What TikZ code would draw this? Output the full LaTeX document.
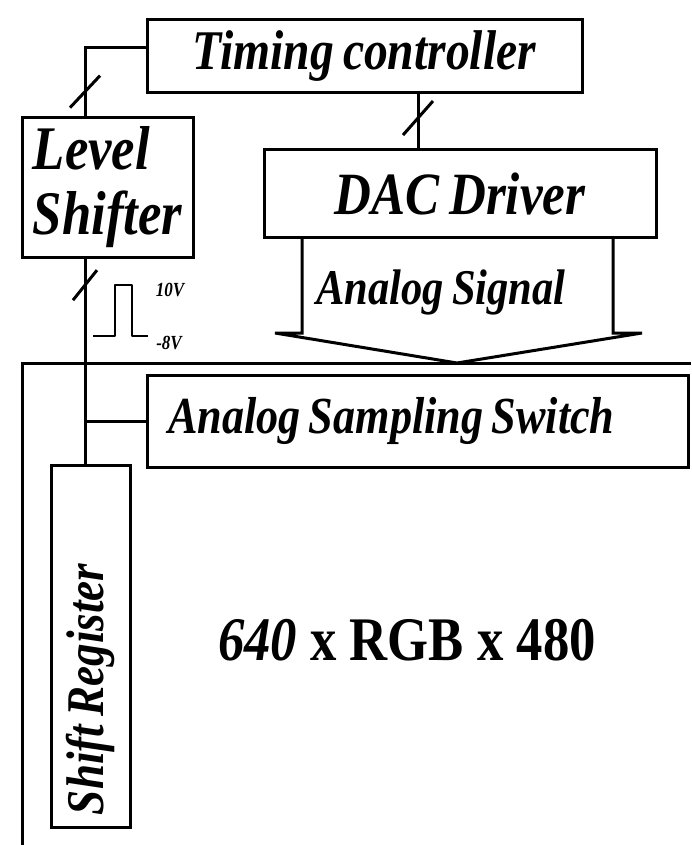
\documentclass[tikz,border=0pt]{standalone}
\usepackage{fontspec}
\setmainfont{Liberation Serif}[FakeStretch=0.85]
\newcommand\tightsp{\spaceskip=0.16em\relax}

\begin{document}
\begin{tikzpicture}[x=1pt,y=-1pt]
\tikzset{
  block/.style={draw,line width=3pt,inner sep=0pt},
  wire/.style={line width=3pt},
  tick/.style={line width=3pt},
  pulse/.style={line width=2.6pt,line join=round},
  volt/.style={inner sep=0pt,font=\fontsize{20}{20}\selectfont\bfseries\itshape}
}
\useasboundingbox (0,0) rectangle (691,845);
\node[block,minimum width=435,minimum height=73,font=\fontsize{56}{60}\selectfont\bfseries\itshape\tightsp] (n_tc) at (364.5,56.5) {Timing controller};
\node[block,minimum width=171,minimum height=139,align=left,font=\fontsize{62}{65}\selectfont\bfseries\itshape] (n_ls) at (107.5,187.5) {Level\\Shifter};
\node[block,minimum width=392,minimum height=88,font=\fontsize{60}{64}\selectfont\bfseries\itshape\tightsp] (n_dac) at (460,193.5) {DAC Driver};
\node[block,text width=499,inner xsep=21,minimum height=92,align=left,font=\fontsize{52}{54}\selectfont\bfseries\itshape] (n_ass) at (417.5,421) {\mbox{\tightsp Analog Sampling Switch}};
\node[block,rotate=90,text width=338,inner xsep=12,minimum height=79,align=left,font=\fontsize{53}{55}\selectfont\bfseries\itshape] (n_sr) at (90.5,646) {\mbox{\tightsp Shift Register}};
\node[font=\fontsize{50}{52}\selectfont\bfseries\itshape\tightsp] (n_sig) at (441,292) {Analog Signal};
\node[font=\fontsize{62}{64}\selectfont\bfseries] (n_res) at (407,640) {\textit{640} x RGB x 480};
% panel edge
\coordinate (p_tr) at (691,363);
\coordinate (p_bl) at (22,845);
\draw[wire] (p_tr) -| (p_bl);
% analog signal arrow
\draw[wire,line join=miter] (302,237) -- (302,333) -- (275,333) -- (457,363) -- (642,333) -- (613,333) -- (613,237);
% buses
\coordinate (bus_l) at (85,0);
\coordinate (bus_d) at (418,0);
\draw[wire] (n_ls.north -| bus_l) |- coordinate[pos=0.18] (t1) ([yshift=9pt]n_tc.west);
\draw[wire] (n_tc.south -| bus_d) -- coordinate[pos=0.44] (t2) (n_dac.north -| bus_d);
\draw[wire] (n_ls.south -| bus_l) -- coordinate[pos=0.13] (t3) (n_sr.east -| bus_l);
\draw[wire] (n_ass.west -| bus_l) -- (n_ass.west);
\draw[tick] (t1) +(-15,16) -- +(15,-16);
\draw[tick] (t2) +(-15,17) -- +(15,-17);
\draw[tick] (t3) +(-12,15) -- +(12,-15);
% clock pulse
\coordinate (c_0) at (93,336);
\draw[pulse] (c_0) -- ++(22,0) -- ++(0,-51) -- ++(17,0) -- ++(0,51) -- ++(16,0);
\node[volt] (v_hi) at (170,290) {10V};
\node[volt] (v_lo) at (169,343) {-8V};
\end{tikzpicture}
\end{document}
